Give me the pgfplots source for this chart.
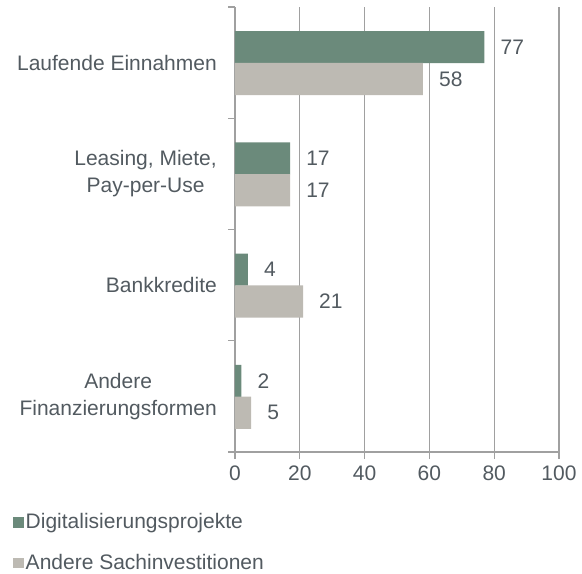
\documentclass[border=0pt]{standalone}
\usepackage{pgfplots}
\pgfplotsset{compat=1.18}
\usepackage{fontspec}
\setmainfont{Liberation Sans}
\definecolor{dgreen}{HTML}{6B8A7B}
\definecolor{lgrey}{HTML}{BDBAB3}
\definecolor{txt}{HTML}{525A60}
\definecolor{axg}{HTML}{A0A0A0}
\pgfplotsset{sqlegend/.style={legend image code/.code={\fill[##1] (0bp,-5bp) rectangle (10.5bp,5.5bp);}}}
\begin{document}
\fontsize{21bp}{25bp}\selectfont
\begin{tikzpicture}
\useasboundingbox (-235bp,-122bp) rectangle (347bp,452bp);
\begin{axis}[
  at={(0,0)}, anchor=south west,
  scale only axis, width=324bp, height=445bp,
  xmin=0, xmax=100, ymin=0, ymax=4, y dir=reverse,
  /pgf/number format/assume math mode=true,
  xtick={0,20,...,100},
  ytick={0,1,2,3,4}, yticklabels={},
  extra y ticks={0.5,1.5,2.5,3.5},
  extra y tick labels={Laufende Einnahmen, {Leasing, Miete,\\Pay-per-Use}, Bankkredite, {Andere\\Finanzierungsformen}},
  extra y tick style={major tick length=0pt, yticklabel style={align=center, xshift=-11bp, font=\fontsize{21bp}{27bp}\selectfont}},
  tick align=outside, major tick length=7bp,
  tick style={axg, line width=1.3bp},
  axis x line*=bottom, axis y line*=left,
  axis line style={axg, line width=1.3bp},
  xmajorgrids, grid style={axg, line width=1.3bp},
  tick label style={text=txt, font=\fontsize{21bp}{25bp}\selectfont},
  legend style={at={(axis description cs:-0.685,-0.133)}, anchor=north west, draw=none, fill=none,
    font=\fontsize{21bp}{25bp}\selectfont, text=txt, row sep=18.5bp, inner sep=0pt},
  legend cell align=left,
  nodes near coords, point meta=x,
  every node near coord/.append style={anchor=west, xshift=9bp, text=txt, font=\fontsize{21bp}{25bp}\selectfont},
]
\addplot[xbar, bar width=0.288, bar shift=0pt, fill=dgreen, draw=none, sqlegend]
  coordinates {(77,0.36) (17,1.36) (4,2.36) (2,3.36)};
\addplot[xbar, bar width=0.288, bar shift=0pt, fill=lgrey, draw=none, sqlegend]
  coordinates {(58,0.647) (17,1.647) (21,2.647) (5,3.647)};
\legend{Digitalisierungsprojekte, Andere Sachinvestitionen}
\end{axis}
\end{tikzpicture}
\end{document}
